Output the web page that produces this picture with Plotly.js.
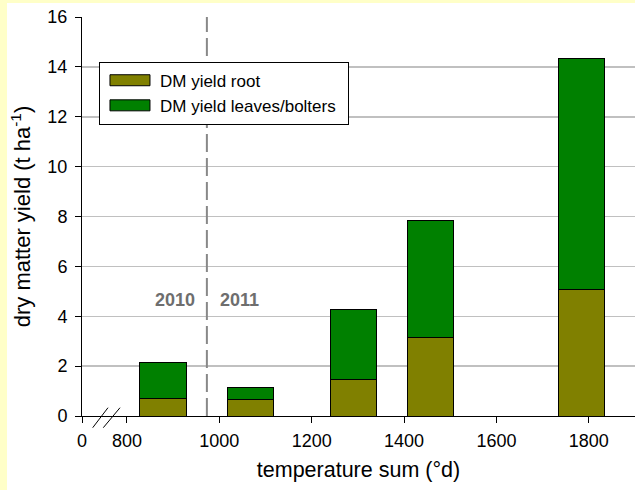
<!DOCTYPE html>
<html>
<head>
<meta charset="utf-8">
<script src="https://cdn.plot.ly/plotly-3.0.1.min.js"></script>
<style>
  html, body { margin: 0; padding: 0; background: #FFFFC8; width: 635px; height: 490px; overflow: hidden; }
  #chart { position: absolute; left: 7px; top: 3px; width: 628px; height: 487px; background: #ffffff; }
</style>
</head>
<body>
<div id="chart"></div>
<script>
// ---- data ----
const tempSum = [878, 1068, 1290, 1457, 1785];
const rootYield = [0.72, 0.67, 1.45, 3.16, 5.07];
const leavesYield = [1.42, 0.47, 2.81, 4.66, 9.28];
const seriesNames = ["DM yield root", "DM yield leaves/bolters"];
const tickValues = [702.6, 800, 1000, 1200, 1400, 1600, 1800];
const tickLabels = ["0", "800", "1000", "1200", "1400", "1600", "1800"];
const yearDivider = 973;
const yearLabels = ["2010", "2011"];
const yMax = 16;

const font = "Liberation Sans, Arial, sans-serif";

const traces = [
  {
    type: "bar", x: tempSum, y: rootYield, name: seriesNames[0], width: 100,
    marker: { color: "#808000", line: { color: "#000000", width: 1 } }
  },
  {
    type: "bar", x: tempSum, y: leavesYield, name: seriesNames[1], width: 100,
    marker: { color: "#008000", line: { color: "#000000", width: 1 } }
  },
  {
    type: "scatter", mode: "lines", x: [yearDivider, yearDivider], y: [0, yMax],
    line: { color: "#888888", width: 2, dash: "18px,6px" }, showlegend: false, hoverinfo: "skip"
  }
];

const layout = {
  width: 628, height: 487,
  margin: { l: 75, r: 0, t: 14, b: 74 },
  paper_bgcolor: "#ffffff", plot_bgcolor: "#ffffff",
  barmode: "stack",
  font: { family: font, color: "#000000", size: 18 },
  showlegend: true,
  legend: {
    x: 0.0307, y: 0.888, xanchor: "left", yanchor: "top",
    bgcolor: "#ffffff", bordercolor: "#000000", borderwidth: 1,
    traceorder: "normal", font: { family: font, size: 17 },
    itemwidth: 50
  },
  xaxis: {
    range: [702.6, 1900], tickmode: "array", tickvals: tickValues, ticktext: tickLabels,
    showgrid: false, zeroline: false, showline: true, linecolor: "#000000", linewidth: 1,
    ticks: "outside", ticklen: 6, tickcolor: "#000000", ticklabelstandoff: 2,
    tickfont: { size: 18 },
    title: { text: "temperature sum (°d)", font: { size: 21.5 }, standoff: 12 }
  },
  yaxis: {
    range: [0, yMax], dtick: 2, tick0: 0,
    showgrid: true, gridcolor: "#c0c0c0", gridwidth: 1.5,
    zeroline: false, showline: true, linecolor: "#000000", linewidth: 1,
    ticks: "outside", ticklen: 6, tickcolor: "#000000", ticklabelstandoff: 4,
    tickfont: { size: 18 },
    title: { text: "dry matter yield (t ha<sup>-1</sup>)", font: { size: 22 }, standoff: 12 }
  },
  annotations: [
    { x: yearDivider - 22, y: 4.65, xref: "x", yref: "y", text: "<b>" + yearLabels[0] + "</b>",
      showarrow: false, xanchor: "right", font: { size: 18, color: "#6e6e6e" } },
    { x: yearDivider + 24, y: 4.65, xref: "x", yref: "y", text: "<b>" + yearLabels[1] + "</b>",
      showarrow: false, xanchor: "left", font: { size: 18, color: "#6e6e6e" } }
  ],
  shapes: [
    { type: "line", xref: "x", yref: "paper", x0: 725.8, y0: -0.0293, x1: 758.9, y1: 0.0208,
      line: { color: "#000000", width: 1 } },
    { type: "line", xref: "x", yref: "paper", x0: 748.7, y0: -0.0293, x1: 784.9, y1: 0.0208,
      line: { color: "#000000", width: 1 } }
  ]
};

Plotly.newPlot("chart", traces, layout, { displayModeBar: false, staticPlot: true }).then(function () {
  document.querySelectorAll("#chart .legendbar, #chart .legendundefined").forEach(function (p) {
    p.setAttribute("d", "M20,5.5H-20V-5.5H20Z");
  });
  const bg = document.querySelector("#chart .legend .bg");
  if (bg) {
    const w = parseFloat(bg.getAttribute("width"));
    bg.setAttribute("width", w + 7);
  }
});
</script>
</body>
</html>
